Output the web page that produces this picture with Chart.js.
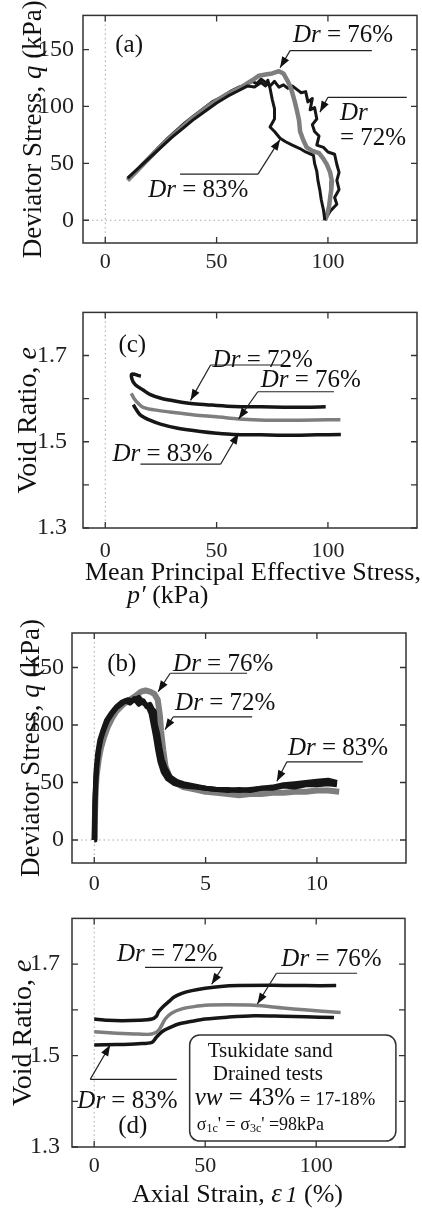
<!DOCTYPE html>
<html>
<head>
<meta charset="utf-8">
<script src="https://cdn.jsdelivr.net/npm/chart.js@4/dist/chart.umd.min.js"></script>
<style>
  body { margin: 0; background: #fff; }
  canvas { position: absolute; left: 0; }
</style>
</head>
<body>
<canvas id="chartA" width="422" height="290" style="top:0px"></canvas>
<canvas id="chartC" width="422" height="325" style="top:290px"></canvas>
<canvas id="chartB" width="422" height="285" style="top:615px"></canvas>
<canvas id="chartD" width="422" height="311" style="top:900px"></canvas>
<script>
// (a) effective stress path, q vs p' (kPa)
let stressPath72 = [[10,36],[13,41],[16,48],[20,56],[24,64],[28,72],[32,79],[36,86],[40,92],[44,98],[48,104],[52,108],[56,113],[60,117],[63,119],[66,122],[68,120],[70,124],[72,121],[74,118],[76,122],[78,117],[80,119],[82,116],[84,118],[86,115],[88,112],[90,113],[91,104],[93,107],[92,97],[94,99],[95,89],[93,84],[94,78],[96,74],[95,66],[98,64],[100,60],[103,58],[104,49],[105,42],[104,35],[105,27],[103,20],[104,14],[101,8],[99.5,3],[98.6,0]];
let stressPath76 = [[10,35],[14,43],[18,51],[22,59],[26,67],[30,74],[34,81],[38,88],[42,94],[46,100],[50,105],[54,110],[58,114],[62,118],[66,123],[69,127],[72,128],[75,129],[78,131],[80,129],[82,122],[83,118],[84,112],[85,105],[86,97],[87,88],[87.5,78],[89,70],[90.5,64],[93,61],[96,59],[98,54],[99.5,49],[101,42],[101.8,34],[101.5,27],[101,20],[100.5,12],[99.5,4],[98.6,0]];
let stressPath83 = [[10,37],[15,46],[20,55],[25,64],[30,73],[35,81],[40,89],[45,96],[50,103],[55,109],[60,114],[64,118],[67,117],[70,121],[72,118],[73,123],[74,116],[75,106],[76,98],[76,89],[74,82],[76,78],[78.5,72],[81,69],[84,66],[87.4,63],[90,60],[93.5,57],[94,50],[95,43],[95.5,35],[96.4,26],[97,18],[98,9],[98.6,0]];

// (c) void ratio vs p'
let voidP72 = [[16,1.652],[12,1.657],[12,1.645],[13.5,1.632],[17,1.62],[20,1.61],[25,1.601],[30.6,1.595],[35,1.591],[39.6,1.588],[48,1.585],[57.7,1.582],[70,1.581],[80,1.58],[90,1.58],[99,1.581]];
let voidP76 = [[11.7,1.612],[13,1.6],[15,1.588],[17,1.58],[22,1.574],[29,1.569],[40,1.562],[50,1.558],[60,1.553],[72,1.55],[87.6,1.55],[100,1.551],[105.6,1.551]];
let voidP83 = [[12.6,1.586],[14,1.574],[15.8,1.562],[20,1.55],[24.8,1.541],[32,1.532],[42.8,1.524],[50,1.52],[57.6,1.517],[70,1.516],[80,1.515],[95,1.516],[105.8,1.517]];

// (b) q vs axial strain
let stressStrain72 = [[0,0],[0.03,30],[0.07,50],[0.12,65],[0.2,78],[0.3,88],[0.45,97],[0.6,104],[0.8,110],[1.0,115],[1.2,118],[1.4,121],[1.6,119],[1.8,123],[2.0,118],[2.2,121],[2.35,116],[2.5,118],[2.6,114],[2.7,112],[2.75,100],[2.85,92],[2.95,80],[3.05,70],[3.2,62],[3.4,55],[3.7,51],[4.0,49],[4.5,47],[5.0,45],[5.5,44],[6.0,43],[6.5,44],[7.0,43],[7.5,45],[8.0,45],[8.5,47],[9.0,46],[9.5,48],[10.0,48],[10.5,49],[10.9,48]];
let stressStrain76 = [[0,0],[0.05,35],[0.1,55],[0.2,70],[0.3,80],[0.45,90],[0.6,98],[0.8,106],[1.0,112],[1.3,118],[1.6,122],[1.9,126],[2.1,129],[2.3,130],[2.5,129],[2.7,127],[2.85,122],[2.95,108],[3.0,95],[3.1,78],[3.2,64],[3.4,54],[3.7,49],[4.0,46],[4.5,44],[5.0,42],[5.5,41],[6.0,40],[6.5,39],[7.0,40],[7.5,40],[8.0,41],[8.5,41],[9.0,42],[9.5,42],[10.0,43],[10.5,43],[11.0,42]];
let stressStrain83 = [[0,0],[0.04,40],[0.08,60],[0.15,75],[0.25,87],[0.4,96],[0.55,104],[0.75,110],[1.0,116],[1.25,120],[1.5,122],[1.75,121],[2.0,124],[2.2,119],[2.4,117],[2.55,110],[2.65,100],[2.75,90],[2.85,78],[2.95,68],[3.1,59],[3.3,53],[3.6,49],[4.0,47],[4.5,46],[5.0,45],[5.5,44],[6.0,44],[6.5,43],[7.0,44],[7.5,45],[8.0,46],[8.5,48],[9.0,49],[9.5,50],[10.0,51],[10.5,52],[10.9,50]];

// (d) void ratio vs axial strain
let voidStrain72 = [[0,1.58],[6,1.577],[12.5,1.576],[20,1.577],[26,1.58],[28,1.586],[29,1.596],[31,1.607],[33.6,1.618],[36,1.628],[39.5,1.636],[44,1.642],[50,1.647],[57,1.651],[65,1.653],[80,1.654],[95,1.653],[109,1.653]];
let voidStrain76 = [[0,1.552],[10,1.549],[20,1.547],[26,1.547],[29,1.555],[32,1.58],[35,1.593],[39.5,1.602],[45,1.607],[50,1.61],[60,1.611],[72,1.61],[85,1.604],[94.6,1.6],[111,1.594]];
let voidStrain83 = [[0,1.523],[10,1.524],[20,1.526],[26,1.529],[28,1.54],[30.5,1.552],[34,1.561],[38,1.569],[44,1.575],[50,1.58],[60,1.584],[72,1.587],[85,1.586],[95,1.585],[108,1.583]];

let qTicks = [0, 50, 100, 150];
let pTicks = [0, 50, 100];
let eTicks = [1.3, 1.4, 1.5, 1.6, 1.7];
let eLabels = [1.3, 1.5, 1.7];
let strainTicks = [0, 5, 10];
let strainPctTicks = [0, 50, 100];

const BLACK = '#161616';
const GREY = '#7e7e7e';
const FAMILY = '"Liberation Serif", "DejaVu Serif", serif';
const serif = (size, italic) => (italic ? 'italic ' : '') + size + 'px ' + FAMILY;

function toXY(arr) {
    return arr.map(p => ({ x: p[0], y: p[1] }));
}

function line(data, color, width, order, tension) {
    return {
        data: toXY(data),
        borderColor: color,
        borderWidth: width,
        showLine: true,
        pointRadius: 0,
        tension: tension || 0,
        order: order,
        borderJoinStyle: 'round'
    };
}

// draws text pieces one after another; piece = [text, font, dy]
function rich(ctx, x, y, parts) {
    let cx = x;
    parts.forEach(p => {
        ctx.font = p[1];
        ctx.fillText(p[0], cx, y + (p[2] || 0));
        cx += ctx.measureText(p[0]).width;
    });
    return cx;
}

function richWidth(ctx, parts) {
    let w = 0;
    parts.forEach(p => { ctx.font = p[1]; w += ctx.measureText(p[0]).width; });
    return w;
}

function arrow(ctx, x0, y0, x1, y1) {
    ctx.beginPath();
    ctx.moveTo(x0, y0);
    ctx.lineTo(x1, y1);
    ctx.stroke();
    let ang = Math.atan2(y1 - y0, x1 - x0);
    let L = 11, W = 4;
    ctx.beginPath();
    ctx.moveTo(x1, y1);
    ctx.lineTo(x1 - L * Math.cos(ang) + W * Math.sin(ang), y1 - L * Math.sin(ang) - W * Math.cos(ang));
    ctx.lineTo(x1 - L * Math.cos(ang) - W * Math.sin(ang), y1 - L * Math.sin(ang) + W * Math.cos(ang));
    ctx.closePath();
    ctx.fill();
}

function framePlugin(p) {
    return {
        id: 'frame',
        beforeDatasetsDraw(chart) {
            const { ctx, chartArea: a, scales: { x, y } } = chart;
            ctx.save();
            ctx.strokeStyle = '#a8a8a8';
            ctx.lineWidth = 1;
            ctx.setLineDash([1.5, 3]);
            let x0 = x.getPixelForValue(0);
            ctx.beginPath(); ctx.moveTo(x0, a.top); ctx.lineTo(x0, a.bottom); ctx.stroke();
            if (p.zeroY) {
                let y0 = y.getPixelForValue(0);
                ctx.beginPath(); ctx.moveTo(a.left, y0); ctx.lineTo(a.right, y0); ctx.stroke();
            }
            ctx.restore();
        },
        afterDatasetsDraw(chart) {
            const { ctx, chartArea: a, scales: { x, y } } = chart;
            ctx.save();
            // frame and inward ticks on all four sides
            ctx.strokeStyle = '#333';
            ctx.lineWidth = 1.5;
            ctx.strokeRect(a.left, a.top, a.right - a.left, a.bottom - a.top);
            ctx.lineWidth = 1.3;
            ctx.beginPath();
            p.xTicks.forEach(v => {
                let px = x.getPixelForValue(v);
                ctx.moveTo(px, a.bottom); ctx.lineTo(px, a.bottom - 6);
                ctx.moveTo(px, a.top); ctx.lineTo(px, a.top + 6);
            });
            p.yTicks.forEach(v => {
                let py = y.getPixelForValue(v);
                ctx.moveTo(a.left, py); ctx.lineTo(a.left + 6, py);
                ctx.moveTo(a.right, py); ctx.lineTo(a.right - 6, py);
            });
            ctx.stroke();

            // Dr labels with leader lines and arrows
            ctx.fillStyle = '#111';
            ctx.strokeStyle = '#222';
            ctx.lineWidth = 1.2;
            ctx.textBaseline = 'alphabetic';
            ctx.textAlign = 'left';
            p.notes.forEach(n => {
                n.text.forEach(t => {
                    let parts = t[2].startsWith('Dr')
                        ? [['Dr', serif(25, true)], [t[2].slice(2), serif(25)]]
                        : [[t[2], serif(25)]];
                    rich(ctx, x.getPixelForValue(t[0]), y.getPixelForValue(t[1]), parts);
                });
                ctx.beginPath();
                ctx.moveTo(x.getPixelForValue(n.leader[0]), y.getPixelForValue(n.leader[1]));
                ctx.lineTo(x.getPixelForValue(n.leader[2]), y.getPixelForValue(n.leader[1]));
                ctx.stroke();
                arrow(ctx, x.getPixelForValue(n.arrow[0]), y.getPixelForValue(n.arrow[1]),
                    x.getPixelForValue(n.arrow[2]), y.getPixelForValue(n.arrow[3]));
            });

            // panel tag
            ctx.font = serif(25);
            ctx.fillText(p.tag[2], x.getPixelForValue(p.tag[0]), y.getPixelForValue(p.tag[1]));

            // y axis title
            ctx.save();
            let w = richWidth(ctx, p.yTitle);
            ctx.translate(p.yTitleX, (a.top + a.bottom) / 2);
            ctx.rotate(-Math.PI / 2);
            rich(ctx, -w / 2, 0, p.yTitle);
            ctx.restore();

            // x axis title lines
            (p.xTitle || []).forEach(t => rich(ctx, t.x, t.y, t.parts));

            if (p.extra) p.extra(ctx, x, y);
            ctx.restore();
        }
    };
}

function makePanel(id, p) {
    const canvas = document.getElementById(id);
    const top = parseInt(canvas.style.top);
    const H = canvas.height;
    return new Chart(canvas, {
        type: 'scatter',
        data: { datasets: p.datasets },
        options: {
            responsive: false,
            animation: false,
            events: [],
            layout: { padding: { top: p.area.top - top, right: 422 - p.area.right, left: 0, bottom: 0 } },
            plugins: { legend: { display: false }, tooltip: { enabled: false } },
            scales: {
                x: {
                    type: 'linear',
                    min: p.xRange[0],
                    max: p.xRange[1],
                    grid: { display: false },
                    border: { display: false },
                    afterFit: s => { s.height = top + H - p.area.bottom; },
                    afterBuildTicks: s => { s.ticks = p.xTicks.map(v => ({ value: v })); },
                    ticks: { font: { family: FAMILY, size: 22 }, color: '#222', padding: p.xPad, maxRotation: 0, autoSkip: false }
                },
                y: {
                    type: 'linear',
                    min: p.yRange[0],
                    max: p.yRange[1],
                    grid: { display: false },
                    border: { display: false },
                    afterFit: s => { s.width = p.area.left; },
                    afterBuildTicks: s => { s.ticks = (p.yLabels || p.yTicks).map(v => ({ value: v })); },
                    ticks: { font: { family: FAMILY, size: 24 }, color: '#222', padding: p.yPad, autoSkip: false }
                }
            }
        },
        plugins: [framePlugin(p)]
    });
}

const devTitle = [['Deviator Stress, ', serif(27)], ['q', serif(27, true)], [' (kPa)', serif(27)]];
const voidTitle = [['Void Ratio, ', serif(28)], ['e', serif(28, true)]];

makePanel('chartA', {
    area: { left: 83, right: 417, top: 12, bottom: 243 },
    xRange: [-10, 140], yRange: [-20, 180],
    xTicks: pTicks, yTicks: qTicks, zeroY: true, xPad: -2, yPad: 1,
    datasets: [
        line(stressPath72, BLACK, 3, 3),
        line(stressPath76, GREY, 4.5, 2),
        line(stressPath83, BLACK, 3, 1)
    ],
    notes: [
        { text: [[84.3, 157, 'Dr = 76%']], leader: [83, 149, 119.7], arrow: [83, 149, 78.5, 134] },
        { text: [[105.4, 88, 'Dr'], [105.4, 66, '= 72%']], leader: [100, 108, 135.4], arrow: [100, 108, 96.4, 95] },
        { text: [[19.3, 20, 'Dr = 83%']], leader: [33.6, 40.5, 68.6], arrow: [68.6, 40.5, 78.5, 71] }
    ],
    tag: [4.5, 148, '(a)'],
    yTitle: devTitle, yTitleX: 41
});

makePanel('chartC', {
    area: { left: 83, right: 417, top: 295, bottom: 528 },
    xRange: [-10, 140], yRange: [1.3, 1.8],
    xTicks: pTicks, yTicks: eTicks, yLabels: eLabels, xPad: 2, yPad: 8,
    datasets: [
        line(voidP72, BLACK, 3.5, 1, 0.3),
        line(voidP76, GREY, 3.5, 2, 0.3),
        line(voidP83, BLACK, 3.5, 3, 0.3)
    ],
    notes: [
        { text: [[48.2, 1.674, 'Dr = 72%']], leader: [47.3, 1.678, 80.2], arrow: [47.3, 1.678, 38.3, 1.596] },
        { text: [[69.8, 1.627, 'Dr = 76%']], leader: [68.5, 1.616, 102.7], arrow: [68.5, 1.616, 59.9, 1.553] },
        { text: [[3.2, 1.455, 'Dr = 83%']], leader: [15.8, 1.448, 51.8], arrow: [51.8, 1.448, 59.9, 1.52] }
    ],
    tag: [5.9, 1.709, '(c)'],
    yTitle: voidTitle, yTitleX: 36,
    xTitle: [
        { x: 85, y: 290, parts: [['Mean Principal Effective Stress,', serif(26)]] },
        { x: 127, y: 313, parts: [['p′', serif(26, true)], [' (kPa)', serif(26)]] }
    ]
});

makePanel('chartB', {
    area: { left: 72, right: 406, top: 633, bottom: 863 },
    xRange: [-1, 14], yRange: [-20, 180],
    xTicks: strainTicks, yTicks: qTicks, zeroY: true, xPad: 0, yPad: 0,
    datasets: [
        line(stressStrain76, GREY, 6, 3),
        line(stressStrain72, BLACK, 5, 2),
        line(stressStrain83, BLACK, 5, 1)
    ],
    notes: [
        { text: [[3.54, 147, 'Dr = 76%']], leader: [3.41, 145, 6.86], arrow: [3.41, 145, 2.87, 129] },
        { text: [[3.63, 113, 'Dr = 72%']], leader: [3.54, 107, 7.09], arrow: [3.54, 107, 3.18, 96] },
        { text: [[8.7, 74, 'Dr = 83%']], leader: [8.65, 68, 12.06], arrow: [8.65, 68, 8.2, 51] }
    ],
    tag: [0.58, 147, '(b)'],
    yTitle: devTitle, yTitleX: 39
});

makePanel('chartD', {
    area: { left: 72, right: 405, top: 915, bottom: 1147 },
    xRange: [-10, 140], yRange: [1.3, 1.8],
    xTicks: strainPctTicks, yTicks: eTicks, yLabels: eLabels, xPad: -2, yPad: 4,
    datasets: [
        line(voidStrain72, BLACK, 3.5, 1, 0.3),
        line(voidStrain76, GREY, 3.5, 2, 0.3),
        line(voidStrain83, BLACK, 3.5, 3, 0.3)
    ],
    notes: [
        { text: [[10.3, 1.706, 'Dr = 72%']], leader: [22.9, 1.693, 57.8], arrow: [57.8, 1.693, 52.9, 1.656] },
        { text: [[84.3, 1.695, 'Dr = 76%']], leader: [82.1, 1.68, 118.4], arrow: [82.1, 1.68, 73.5, 1.613] },
        { text: [[-7.6, 1.386, 'Dr = 83%']], leader: [-1.8, 1.448, 37.2], arrow: [-1.8, 1.448, 7.2, 1.523] }
    ],
    tag: [10.8, 1.331, '(d)'],
    yTitle: voidTitle, yTitleX: 31,
    xTitle: [
        { x: 132, y: 302, parts: [['Axial Strain, ', serif(26)], ['ε', serif(27, true)], [' ', serif(14)], ['1', serif(24, true)], [' (%)', serif(26)]] }
    ],
    extra: (ctx, x, y) => {
        // test conditions box
        let bx = x.getPixelForValue(43), by = y.getPixelForValue(1.545);
        let bw = x.getPixelForValue(135.9) - bx, bh = y.getPixelForValue(1.313) - by;
        ctx.fillStyle = '#fff';
        ctx.strokeStyle = '#333';
        ctx.lineWidth = 1.5;
        ctx.beginPath();
        ctx.roundRect(bx, by, bw, bh, 10);
        ctx.fill();
        ctx.stroke();
        ctx.fillStyle = '#111';
        rich(ctx, x.getPixelForValue(51.1), y.getPixelForValue(1.496), [['Tsukidate sand', serif(21)]]);
        rich(ctx, x.getPixelForValue(53.4), y.getPixelForValue(1.446), [['Drained tests', serif(21)]]);
        rich(ctx, x.getPixelForValue(45.3), y.getPixelForValue(1.391),
            [['vw', serif(25, true)], [' = 43%', serif(25)], [' = 17-18%', serif(19)]]);
        rich(ctx, x.getPixelForValue(46.2), y.getPixelForValue(1.338),
            [['σ', serif(18)], ['1c', serif(12), 2], ['\' = σ', serif(18)], ['3c', serif(12), 2], ['\' =98kPa', serif(18)]]);
    }
});
</script>
</body>
</html>
